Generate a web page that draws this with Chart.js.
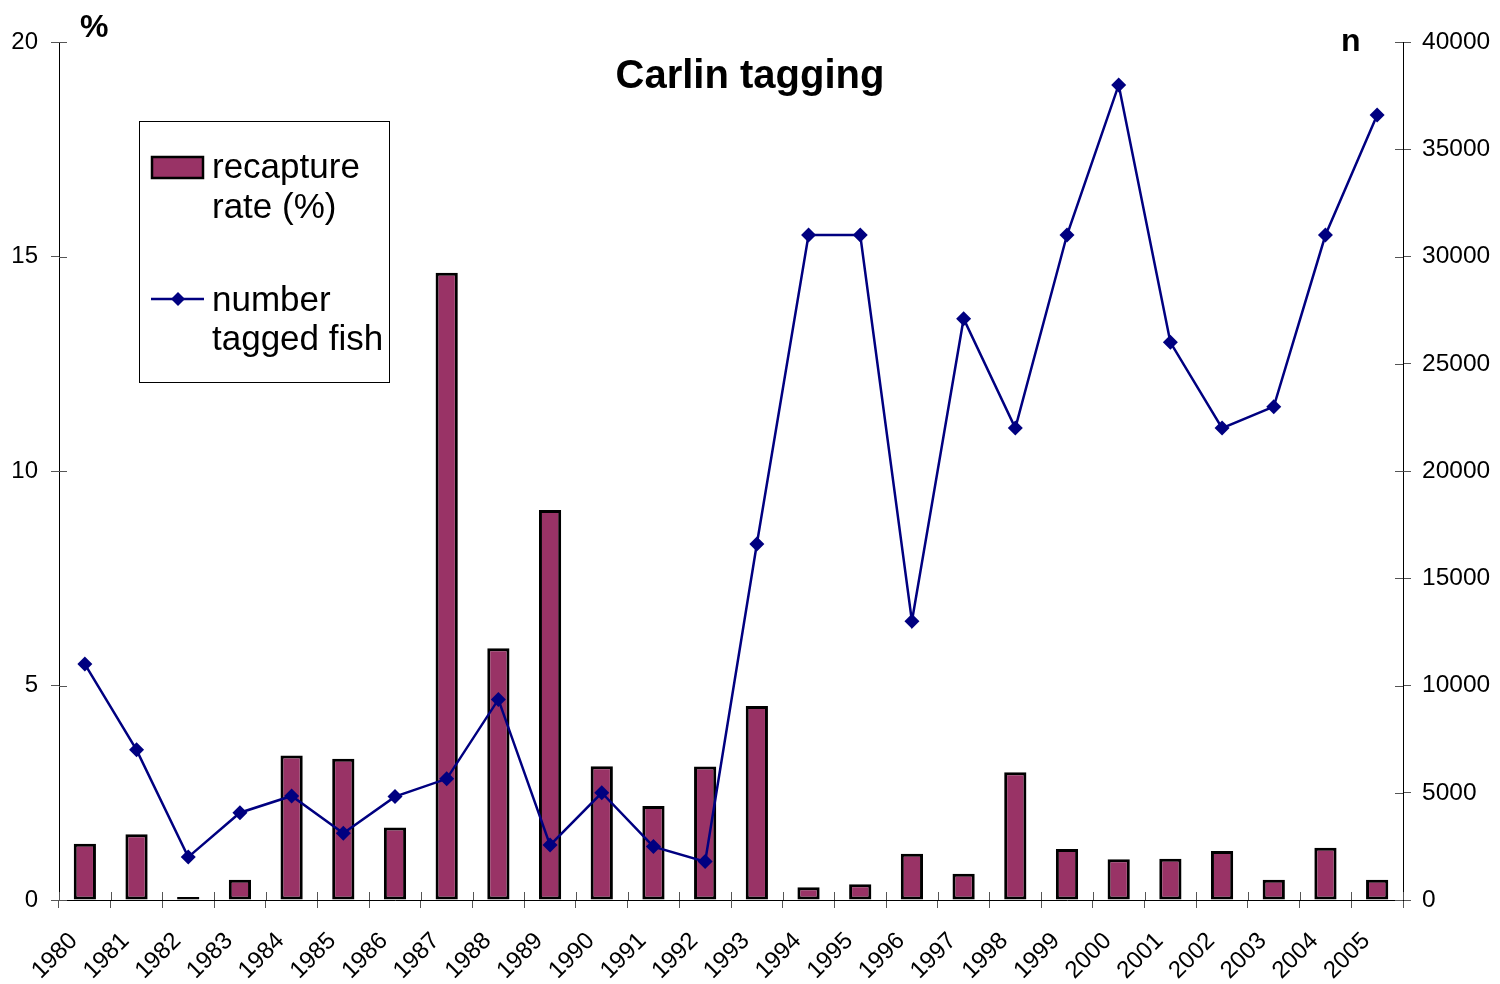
<!DOCTYPE html>
<html>
<head>
<meta charset="utf-8">
<title>Carlin tagging</title>
<script src="https://cdn.jsdelivr.net/npm/chart.js@4/dist/chart.umd.min.js"></script>
<style>
  html, body { margin: 0; padding: 0; background: #ffffff; }
  #wrap { width: 1500px; height: 984px; }
</style>
</head>
<body>
<div id="wrap"><canvas id="chart" width="1500" height="984"></canvas></div>
<script>
// Tagging years
const years = ['1980', '1981', '1982', '1983', '1984', '1985', '1986', '1987', '1988', '1989',
               '1990', '1991', '1992', '1993', '1994', '1995', '1996', '1997', '1998', '1999',
               '2000', '2001', '2002', '2003', '2004', '2005'];

// Recapture rate per year (%)
const recaptureRate = [1.31, 1.53, 0.07, 0.47, 3.37, 3.29, 1.69, 14.62, 5.87, 9.09,
                       3.12, 2.19, 3.11, 4.52, 0.30, 0.37, 1.08, 0.61, 2.98, 1.19,
                       0.95, 0.96, 1.14, 0.47, 1.22, 0.47];

// Number of tagged fish released per year
const taggedFish = [11000, 7000, 2000, 4070, 4850, 3110, 4820, 5650, 9350, 2560,
                    5000, 2490, 1790, 16600, 31000, 31000, 13000, 27100, 22000, 31000,
                    38000, 26000, 22000, 23000, 31000, 36600];

// Axis tick values
const percentTicks = [0, 5, 10, 15, 20];
const countTicks = [0, 5000, 10000, 15000, 20000, 25000, 30000, 35000, 40000];

// Legend wording (two lines per entry)
const legendLines = [['recapture', 'rate (%)'], ['number', 'tagged fish']];

const FONT = '"Liberation Sans", Arial, Helvetica, sans-serif';
const BAR_FILL = '#993366';
const LINE_COLOR = '#000080';
const TICK_COLOR = '#555555';

// Inner half of the crossing tick marks on all three axes
const crossTicks = {
  id: 'crossTicks',
  beforeDatasetsDraw(chart) {
    const { ctx, chartArea, scales } = chart;
    ctx.save();
    ctx.strokeStyle = TICK_COLOR;
    ctx.lineWidth = 1;
    ctx.beginPath();
    const xs = scales.x;
    const n = xs.ticks.length;
    for (let i = 0; i <= n; i++) {
      const px = Math.round(xs.left + i * xs.width / n) + 0.5;
      ctx.moveTo(px, xs.top - 8);
      ctx.lineTo(px, xs.top);
    }
    scales.y.ticks.forEach((t, i) => {
      const py = Math.round(scales.y.getPixelForTick(i)) + 0.5;
      ctx.moveTo(chartArea.left, py);
      ctx.lineTo(chartArea.left + 8, py);
    });
    scales.y1.ticks.forEach((t, i) => {
      const py = Math.round(scales.y1.getPixelForTick(i)) + 0.5;
      ctx.moveTo(chartArea.right - 8, py);
      ctx.lineTo(chartArea.right, py);
    });
    ctx.stroke();
    ctx.restore();
  }
};

// Title, axis unit labels and the boxed legend
const decorations = {
  id: 'decorations',
  afterDraw(chart) {
    const { ctx, chartArea } = chart;
    const ds = chart.data.datasets;
    ctx.save();

    ctx.fillStyle = '#000';
    ctx.textBaseline = 'alphabetic';
    ctx.font = 'bold 40px ' + FONT;
    ctx.textAlign = 'center';
    ctx.fillText('Carlin tagging', chart.width / 2, 88);

    ctx.font = 'bold 32px ' + FONT;
    ctx.textAlign = 'left';
    ctx.fillText('%', chartArea.left + 21, 37);
    ctx.fillText('n', chartArea.right - 62, 51);

    // legend frame
    const lx = 139.5, ly = 121.5, lw = 250, lh = 261;
    ctx.fillStyle = '#fff';
    ctx.fillRect(lx, ly, lw, lh);
    ctx.strokeStyle = '#000';
    ctx.lineWidth = 1;
    ctx.strokeRect(lx, ly, lw, lh);

    // bar entry
    const bar = ds.find(d => d.type === 'bar');
    ctx.fillStyle = bar.backgroundColor;
    ctx.fillRect(152, 157, 51, 21);
    ctx.strokeStyle = bar.borderColor;
    ctx.lineWidth = 2.5;
    ctx.strokeRect(152, 157, 51, 21);

    // line entry
    const line = ds.find(d => d.type === 'line');
    ctx.strokeStyle = line.borderColor;
    ctx.lineWidth = 2.5;
    ctx.beginPath();
    ctx.moveTo(151, 299);
    ctx.lineTo(204, 299);
    ctx.stroke();
    ctx.fillStyle = line.pointBackgroundColor;
    ctx.beginPath();
    ctx.moveTo(178, 292);
    ctx.lineTo(185, 299);
    ctx.lineTo(178, 306);
    ctx.lineTo(171, 299);
    ctx.closePath();
    ctx.fill();

    ctx.fillStyle = '#000';
    ctx.font = '35px ' + FONT;
    ctx.textAlign = 'left';
    ctx.fillText(legendLines[0][0], 212, 178);
    ctx.fillText(legendLines[0][1], 212, 218);
    ctx.fillText(legendLines[1][0], 212, 311);
    ctx.fillText(legendLines[1][1], 212, 350);

    ctx.restore();
  }
};

new Chart(document.getElementById('chart'), {
  data: {
    labels: years,
    datasets: [
      {
        type: 'line',
        label: 'number tagged fish',
        data: taggedFish,
        yAxisID: 'y1',
        order: 0,
        borderColor: LINE_COLOR,
        borderWidth: 2.5,
        tension: 0,
        pointStyle: 'rectRot',
        pointRadius: 7.5,
        pointBorderWidth: 0,
        pointBackgroundColor: LINE_COLOR,
        pointBorderColor: LINE_COLOR
      },
      {
        type: 'bar',
        label: 'recapture rate (%)',
        data: recaptureRate,
        yAxisID: 'y',
        order: 1,
        backgroundColor: BAR_FILL,
        borderColor: '#000000',
        borderWidth: 3,
        borderSkipped: false,
        barPercentage: 0.43,
        categoryPercentage: 1
      }
    ]
  },
  options: {
    responsive: false,
    animation: false,
    devicePixelRatio: 1,
    layout: { padding: { top: 42, left: 0, right: 0, bottom: 0 } },
    plugins: {
      legend: { display: false },
      title: { display: false },
      tooltip: { enabled: false }
    },
    scales: {
      x: {
        type: 'category',
        offset: true,
        grid: {
          offset: true,
          drawOnChartArea: false,
          drawTicks: true,
          tickLength: 8,
          color: TICK_COLOR
        },
        border: { display: true, color: '#000', width: 1 },
        ticks: {
          autoSkip: false,
          maxRotation: 45,
          minRotation: 45,
          padding: 19,
          labelOffset: -11,
          color: '#000',
          font: { family: FONT, size: 24 }
        },
        afterFit(scale) { scale.height = 84; }
      },
      y: {
        type: 'linear',
        position: 'left',
        min: 0,
        max: 20,
        afterBuildTicks(scale) { scale.ticks = percentTicks.map(v => ({ value: v })); },
        grid: {
          drawOnChartArea: false,
          drawTicks: true,
          tickLength: 8,
          color: TICK_COLOR
        },
        border: { display: true, color: '#000', width: 1 },
        ticks: {
          padding: 13,
          color: '#000',
          font: { family: FONT, size: 24 }
        },
        afterFit(scale) { scale.width = 59; }
      },
      y1: {
        type: 'linear',
        position: 'right',
        min: 0,
        max: 40000,
        afterBuildTicks(scale) { scale.ticks = countTicks.map(v => ({ value: v })); },
        grid: {
          drawOnChartArea: false,
          drawTicks: true,
          tickLength: 8,
          color: TICK_COLOR
        },
        border: { display: true, color: '#000', width: 1 },
        ticks: {
          padding: 11,
          color: '#000',
          font: { family: FONT, size: 24.5 },
          callback: v => String(v)
        },
        afterFit(scale) { scale.width = 97; }
      }
    }
  },
  plugins: [crossTicks, decorations]
});
</script>
</body>
</html>
